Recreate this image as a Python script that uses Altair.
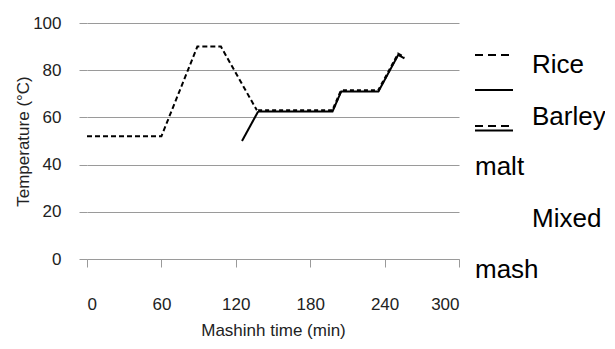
import altair as alt
import pandas as pd

# Data
rice_t = [0, 60, 89, 108, 137]
rice_v = [52, 52, 90, 90, 63]
barley_t = [125, 138]
barley_v = [50, 62.5]
mixed_t = [138, 198, 205, 235, 251, 256]
mixed_v = [62.5, 62.5, 71, 71, 86.5, 85]
x_ticks = [0, 60, 120, 180, 240, 300]
y_ticks = [0, 20, 40, 60, 80, 100]
legend_labels = ["Rice", "Barley", "malt", "Mixed", "mash"]

df = pd.concat([
    pd.DataFrame({"t": rice_t, "v": rice_v, "s": "Rice"}),
    pd.DataFrame({"t": barley_t, "v": barley_v, "s": "Barley malt"}),
    pd.DataFrame({"t": mixed_t, "v": mixed_v, "s": "Mixed mash"}),
], ignore_index=True)

FONT = "Liberation Sans"
GRAY = "#9a9a9a"

x_enc = alt.X("t:Q", scale=alt.Scale(domain=[0, 300], nice=False),
              axis=alt.Axis(values=x_ticks, grid=False, tickSize=8, tickColor=GRAY,
                            domainColor=GRAY, labelPadding=29, labelFontSize=17,
                            labelColor="#222", labelFont=FONT,
                            title="Mashinh time (min)", titleFont=FONT, titleFontSize=17,
                            titleFontWeight="normal", titleColor="#222",
                            titleY=63, titleBaseline="top"))
y_enc = alt.Y("v:Q", scale=alt.Scale(domain=[0, 100], nice=False),
              axis=alt.Axis(values=y_ticks, grid=True, gridColor=GRAY, tickSize=8,
                            tickColor=GRAY, domain=False, labelPadding=18, labelFontSize=17,
                            labelColor="#222", labelFont=FONT,
                            title="Temperature (°C)", titleFont=FONT, titleFontSize=17,
                            titleFontWeight="normal", titleColor="#222",
                            titleX=-64, titleY=118, titleBaseline="middle", titleAngle=-90))

base = alt.Chart(df).encode(x=x_enc, y=y_enc, order="t:Q")

rice = base.transform_filter("datum.s == 'Rice'").mark_line(
    color="black", strokeWidth=2, strokeDash=[5, 3])
barley = base.transform_filter("datum.s == 'Barley malt'").mark_line(
    color="black", strokeWidth=2)
mixed_solid = base.transform_filter("datum.s == 'Mixed mash'").mark_line(
    color="black", strokeWidth=2)
mixed_dash = base.transform_filter("datum.s == 'Mixed mash'").mark_line(
    color="black", strokeWidth=2.5, strokeDash=[4, 3], yOffset=-1)

one = alt.Data(values=[{}])

def sym(x1, x2, y, dash=None, w=1.8):
    kw = dict(color="black", strokeWidth=w)
    if dash:
        kw["strokeDash"] = dash
    return alt.Chart(one).mark_rule(**kw).encode(
        x=alt.value(x1), x2=alt.value(x2), y=alt.value(y))

def lab(text, x, y):
    return alt.Chart(one).mark_text(text=text, font=FONT, fontSize=26, color="black",
                                    align="left", baseline="alphabetic").encode(
        x=alt.value(x), y=alt.value(y))

legend = [
    sym(388, 423, 32, dash=[8, 5]),
    sym(388, 426, 67),
    sym(388, 426, 107.5),
    sym(388, 426, 103, dash=[8, 5]),
    lab(legend_labels[0], 445, 50),
    lab(legend_labels[1], 445, 102),
    lab(legend_labels[2], 388, 152),
    lab(legend_labels[3], 445, 204),
    lab(legend_labels[4], 388, 255),
]

chart = alt.layer(rice, barley, mixed_solid, mixed_dash, *legend).properties(
    width=372, height=236,
    autosize=alt.AutoSizeParams(type="none"),
    padding={"left": 79, "top": 15, "right": 146, "bottom": 80},
).configure_view(stroke=None)

chart.save("out.html", embed_options={"renderer": "svg", "actions": False})
